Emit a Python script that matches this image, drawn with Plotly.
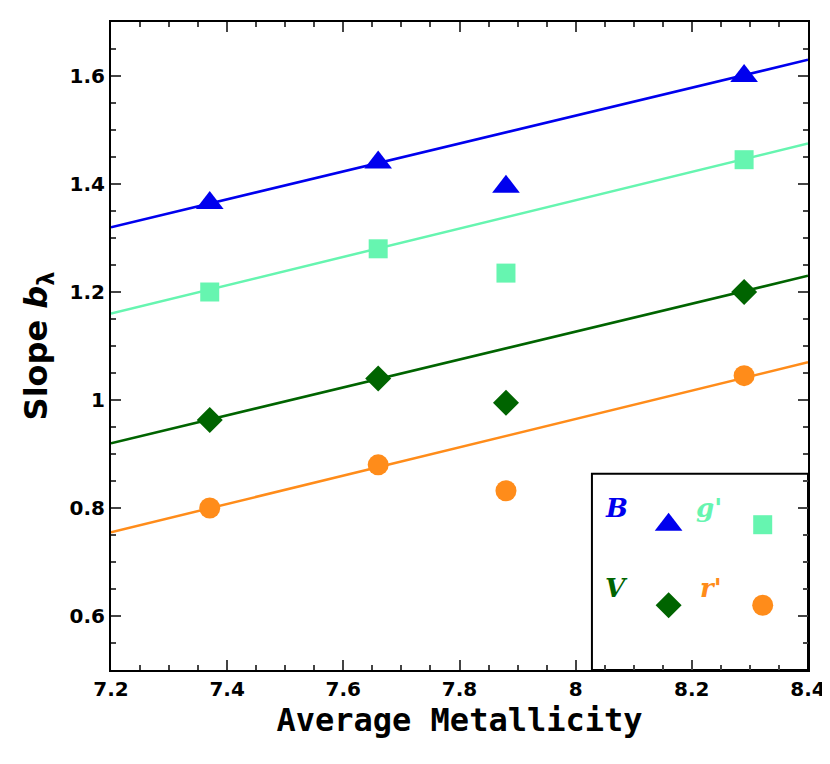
import plotly.graph_objects as go

# metallicity of the four points
metallicity = [7.37, 7.66, 7.88, 8.29]
band_names = ['B', "g'", 'V', "r'"]
band_colors = ['#0000ee', '#66f5b0', '#006400', '#ff8c1a']
band_symbols = ['triangle-up', 'square', 'diamond', 'circle']
band_sizes = [24, 19, 20, 21]
slopes = {
    'B': [1.365, 1.44, 1.395, 1.60],
    "g'": [1.20, 1.28, 1.235, 1.445],
    'V': [0.963, 1.04, 0.995, 1.20],
    "r'": [0.80, 0.88, 0.832, 1.045],
}
# fitted line endpoints at x = 7.2 and 8.4
fit_x = [7.2, 8.4]
fits = {
    'B': [1.32, 1.63],
    "g'": [1.16, 1.475],
    'V': [0.92, 1.23],
    "r'": [0.755, 1.07],
}

fig = go.Figure()
for name, color, sym, sz in zip(band_names, band_colors, band_symbols, band_sizes):
    fig.add_trace(go.Scatter(x=fit_x, y=fits[name], mode='lines',
                             line=dict(color=color, width=2.5), showlegend=False))
    fig.add_trace(go.Scatter(x=metallicity, y=slopes[name], mode='markers',
                             marker=dict(color=color, symbol=sym, size=sz), showlegend=False))

# legend box drawn by hand, like the original
fig.add_shape(type='rect', xref='paper', yref='paper', x0=0.69, x1=1.0, y0=0.0, y1=0.303,
              line=dict(color='black', width=2), fillcolor='white', layer='below')
legend_pos = [(0.745, 0.74), (0.88, 0.74), (0.745, 0.33), (0.88, 0.33)]
for name, color, sym, sz, (px, py) in zip(band_names, band_colors, band_symbols, band_sizes, legend_pos):
    fig.add_annotation(xref='paper', yref='paper', x=px, y=py * 0.303, text=f'<b><i>{name}</i></b>',
                       showarrow=False, font=dict(color=color, size=26, family='DejaVu Serif'))
    fig.add_trace(go.Scatter(x=[px + 0.055], y=[py * 0.303], xaxis='x2', yaxis='y2', mode='markers',
                             showlegend=False, marker=dict(color=color, symbol=sym, size=sz)))

tick_font = dict(size=20, family='DejaVu Sans', color='black', weight='bold')
axis_common = dict(ticks='inside', ticklen=10, tickwidth=2, mirror='allticks', showline=True,
                   linecolor='black', linewidth=2, showgrid=False, zeroline=False,
                   tickfont=tick_font,
                   minor=dict(ticks='inside', ticklen=5, tickwidth=1.5))
fig.update_layout(
    width=830, height=764, plot_bgcolor='white', paper_bgcolor='white',
    margin=dict(l=103, r=24, t=12, b=102),
    xaxis=dict(range=[7.2, 8.4], dtick=0.2, tickformat='.1~f', minor_dtick=0.05,
               title=dict(text='<b>Average Metallicity</b>', font=dict(size=32, family='DejaVu Sans Mono', color='black'), standoff=8),
               **axis_common),
    yaxis=dict(range=[0.5, 1.7], dtick=0.2, tickformat='.1~f', minor_dtick=0.05,
               title=dict(text='<b>Slope <i>b</i><sub>λ</sub></b>', font=dict(size=32, family='DejaVu Sans', color='black'), standoff=12),
               **axis_common),
    xaxis2=dict(domain=[0, 1], range=[0, 1], overlaying='x', visible=False),
    yaxis2=dict(domain=[0, 1], range=[0, 1], overlaying='y', visible=False),
)
fig.write_html('out.html')
